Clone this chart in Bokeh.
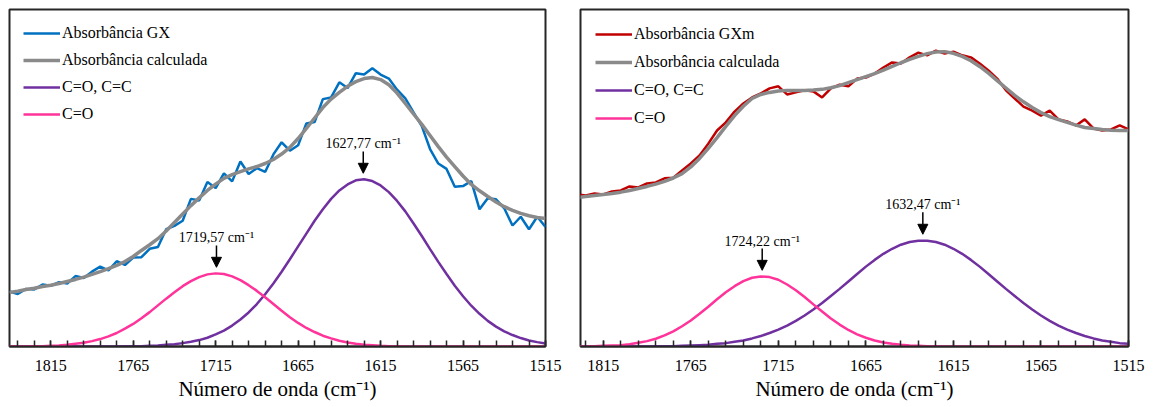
from bokeh.plotting import figure
from bokeh.layouts import row
from bokeh.models import Range1d, FixedTicker, Legend, LegendItem, Label, Arrow, NormalHead
from bokeh.embed import file_html
from bokeh.resources import INLINE

# ---------------- data: sample GX ----------------
wn_gx = list(range(1840, 1514, -5))

abs_gx = [0.163, 0.156, 0.171, 0.169, 0.184, 0.180, 0.191, 0.187, 0.209, 0.203,
          0.222, 0.237, 0.226, 0.253, 0.242, 0.264, 0.265, 0.290, 0.295, 0.348,
          0.358, 0.373, 0.438, 0.433, 0.488, 0.470, 0.514, 0.490, 0.549, 0.512,
          0.529, 0.518, 0.570, 0.606, 0.581, 0.597, 0.662, 0.666, 0.734, 0.739,
          0.784, 0.767, 0.811, 0.807, 0.826, 0.807, 0.795, 0.762, 0.736, 0.695,
          0.654, 0.586, 0.543, 0.527, 0.474, 0.476, 0.491, 0.407, 0.440, 0.437,
          0.410, 0.359, 0.385, 0.348, 0.385, 0.355]
calc_gx = [0.160, 0.164, 0.169, 0.173, 0.178, 0.182, 0.187, 0.193, 0.199, 0.206,
           0.214, 0.222, 0.231, 0.241, 0.252, 0.267, 0.285, 0.302, 0.320, 0.343,
           0.368, 0.393, 0.418, 0.441, 0.463, 0.482, 0.499, 0.510, 0.519, 0.527,
           0.534, 0.543, 0.555, 0.571, 0.591, 0.617, 0.647, 0.678, 0.709, 0.734,
           0.754, 0.772, 0.786, 0.795, 0.798, 0.792, 0.777, 0.752, 0.721, 0.690,
           0.659, 0.626, 0.593, 0.562, 0.534, 0.506, 0.481, 0.462, 0.445, 0.429,
           0.415, 0.404, 0.395, 0.388, 0.383, 0.380]
cc_gx = [0.000, 0.000, 0.000, 0.000, 0.000, 0.000, 0.000, 0.000, 0.000, 0.000,
         0.000, 0.000, 0.000, 0.000, 0.001, 0.001, 0.001, 0.002, 0.003, 0.005,
         0.007, 0.010, 0.014, 0.019, 0.026, 0.036, 0.047, 0.062, 0.080, 0.101,
         0.126, 0.155, 0.187, 0.222, 0.259, 0.297, 0.335, 0.373, 0.407, 0.438,
         0.463, 0.481, 0.493, 0.496, 0.491, 0.478, 0.458, 0.432, 0.401, 0.365,
         0.328, 0.289, 0.251, 0.215, 0.180, 0.149, 0.121, 0.097, 0.076, 0.059,
         0.045, 0.034, 0.025, 0.018, 0.013, 0.009]
co_gx = [0.000, 0.000, 0.000, 0.001, 0.001, 0.002, 0.003, 0.005, 0.008, 0.011,
         0.016, 0.022, 0.030, 0.040, 0.053, 0.067, 0.084, 0.102, 0.122, 0.142,
         0.161, 0.179, 0.194, 0.206, 0.214, 0.217, 0.215, 0.208, 0.197, 0.182,
         0.165, 0.146, 0.126, 0.106, 0.087, 0.070, 0.055, 0.043, 0.032, 0.024,
         0.017, 0.012, 0.008, 0.005, 0.004, 0.002, 0.001, 0.001, 0.000, 0.000,
         0.000, 0.000, 0.000, 0.000, 0.000, 0.000, 0.000, 0.000, 0.000, 0.000,
         0.000, 0.000, 0.000, 0.000, 0.000, 0.000]
peaks_gx = [1714.5, 1625.5]
peak_heights_gx = [0.217, 0.496]
peak_labels_gx = ["1719,57 cm⁻¹", "1627,77 cm⁻¹"]

# ---------------- data: sample GXm ----------------
wn_gxm = list(range(1830, 1514, -5))

abs_gxm = [0.451, 0.448, 0.454, 0.451, 0.460, 0.463, 0.475, 0.472, 0.484, 0.487,
           0.499, 0.501, 0.522, 0.543, 0.567, 0.602, 0.641, 0.665, 0.697, 0.721,
           0.739, 0.751, 0.766, 0.772, 0.748, 0.754, 0.760, 0.757, 0.739, 0.766,
           0.777, 0.772, 0.795, 0.798, 0.810, 0.828, 0.843, 0.840, 0.858, 0.872,
           0.864, 0.878, 0.869, 0.875, 0.864, 0.858, 0.840, 0.819, 0.795, 0.760,
           0.736, 0.712, 0.700, 0.685, 0.700, 0.674, 0.668, 0.656, 0.674, 0.647,
           0.641, 0.644, 0.656, 0.644]
calc_gxm = [0.442, 0.445, 0.448, 0.451, 0.454, 0.458, 0.463, 0.469, 0.475, 0.482,
            0.490, 0.500, 0.513, 0.533, 0.558, 0.588, 0.620, 0.653, 0.685, 0.713,
            0.736, 0.748, 0.754, 0.758, 0.760, 0.760, 0.760, 0.761, 0.763, 0.768,
            0.774, 0.783, 0.792, 0.801, 0.810, 0.820, 0.831, 0.842, 0.852, 0.861,
            0.869, 0.874, 0.875, 0.870, 0.861, 0.848, 0.831, 0.811, 0.789, 0.767,
            0.745, 0.726, 0.709, 0.694, 0.682, 0.673, 0.665, 0.657, 0.650, 0.647,
            0.644, 0.642, 0.641, 0.641]
cc_gxm = [0.000, 0.000, 0.000, 0.000, 0.000, 0.000, 0.000, 0.000, 0.000, 0.001,
          0.001, 0.001, 0.002, 0.003, 0.004, 0.005, 0.008, 0.010, 0.014, 0.018,
          0.024, 0.031, 0.040, 0.050, 0.062, 0.076, 0.092, 0.110, 0.129, 0.150,
          0.171, 0.193, 0.215, 0.237, 0.257, 0.275, 0.290, 0.302, 0.310, 0.314,
          0.314, 0.310, 0.302, 0.290, 0.275, 0.257, 0.237, 0.215, 0.193, 0.171,
          0.150, 0.129, 0.110, 0.092, 0.076, 0.062, 0.050, 0.040, 0.031, 0.024,
          0.018, 0.014, 0.010, 0.008]
co_gxm = [0.000, 0.000, 0.001, 0.002, 0.003, 0.004, 0.007, 0.011, 0.016, 0.023,
          0.033, 0.045, 0.060, 0.077, 0.097, 0.118, 0.140, 0.161, 0.179, 0.194,
          0.204, 0.208, 0.206, 0.198, 0.184, 0.167, 0.147, 0.125, 0.104, 0.083,
          0.065, 0.049, 0.036, 0.026, 0.018, 0.012, 0.008, 0.005, 0.003, 0.002,
          0.001, 0.001, 0.000, 0.000, 0.000, 0.000, 0.000, 0.000, 0.000, 0.000,
          0.000, 0.000, 0.000, 0.000, 0.000, 0.000, 0.000, 0.000, 0.000, 0.000,
          0.000, 0.000, 0.000, 0.000]
peaks_gxm = [1724.22, 1632.47]
peak_heights_gxm = [0.208, 0.315]
peak_labels_gxm = ["1724,22 cm⁻¹", "1632,47 cm⁻¹"]

tick_values = [1815, 1765, 1715, 1665, 1615, 1565, 1515]
minor_tick_values = list(range(1835, 1514, -10))
legend_labels_gx = ["Absorbância GX", "Absorbância calculada", "C=O, C=C", "C=O"]
legend_labels_gxm = ["Absorbância GXm", "Absorbância calculada", "C=O, C=C", "C=O"]
x_title = "Número de onda (cm⁻¹)"

FONT = "Liberation Serif"
GRAY = "#8a8a8a"
PURPLE = "#7030A0"
PINK = "#FF3399"
FRAME = "#262626"


def make_panel(xr, wn, meas, meas_color, calc, cc, co,
               peaks, heights, labels, leg_labels, width, frame_width,
               border_left, border_right, leg_spacing, leg_padding):
    p = figure(width=width, frame_width=frame_width, frame_height=337,
               x_range=Range1d(*xr), y_range=Range1d(0, 1),
               y_axis_location=None, toolbar_location=None,
               output_backend="svg", min_border_left=border_left,
               min_border_right=border_right, min_border_top=9,
               min_border_bottom=0)
    p.xgrid.visible = False
    p.ygrid.visible = False
    p.outline_line_color = FRAME
    p.outline_line_width = 2
    p.background_fill_color = "white"
    p.border_fill_color = "white"

    r1 = p.line(wn, meas, line_color=meas_color, line_width=2.5)
    r2 = p.line(wn, calc, line_color=GRAY, line_width=3.5)
    r3 = p.line(wn, cc, line_color=PURPLE, line_width=2.5)
    r4 = p.line(wn, co, line_color=PINK, line_width=2.5)

    ax = p.xaxis[0]
    ax.ticker = FixedTicker(ticks=tick_values, minor_ticks=minor_tick_values)
    ax.axis_line_color = FRAME
    ax.axis_line_width = 2
    ax.major_tick_in = 6
    ax.major_tick_out = 0
    ax.minor_tick_in = 6
    ax.minor_tick_out = 0
    ax.major_tick_line_color = FRAME
    ax.minor_tick_line_color = FRAME
    ax.major_tick_line_width = 1.5
    ax.minor_tick_line_width = 1.5
    ax.major_label_text_font = FONT
    ax.major_label_text_font_size = "16px"
    ax.major_label_text_color = "black"
    ax.major_label_standoff = 13
    ax.axis_label = x_title
    ax.axis_label_text_font = FONT
    ax.axis_label_text_font_size = "21px"
    ax.axis_label_text_font_style = "normal"
    ax.axis_label_text_color = "black"
    ax.axis_label_standoff = 3

    legend = Legend(items=[LegendItem(label=l, renderers=[r])
                           for l, r in zip(leg_labels, [r1, r2, r3, r4])],
                    location="top_left")
    legend.label_text_font = FONT
    legend.label_text_font_size = "16px"
    legend.label_text_color = "black"
    legend.glyph_width = 37
    legend.glyph_height = 20
    legend.label_height = 20
    legend.label_standoff = 2
    legend.spacing = leg_spacing
    legend.padding = leg_padding
    legend.margin = 0
    legend.background_fill_alpha = 0
    legend.border_line_alpha = 0
    p.add_layout(legend)

    for x, h, t in zip(peaks, heights, labels):
        p.add_layout(Arrow(end=NormalHead(size=10, fill_color="black",
                                          line_color="black"),
                           x_start=x, y_start=h + 0.083, x_end=x, y_end=h + 0.018,
                           line_color="black", line_width=1.5))
        p.add_layout(Label(x=x, y=h + 0.105, text=t, text_align="center",
                           text_baseline="middle", text_font=FONT,
                           text_font_size="14px", text_color="black"))
    return p


p1 = make_panel((1840, 1515), wn_gx, abs_gx, "#0070C0",
                calc_gx, cc_gx, co_gx, peaks_gx, peak_heights_gx, peak_labels_gx,
                legend_labels_gx, 562, 536, 9, 17, 7, 14)
p2 = make_panel((1828, 1515), wn_gxm, abs_gxm, "#C00000",
                calc_gxm, cc_gxm, co_gxm, peaks_gxm, peak_heights_gxm,
                peak_labels_gxm, legend_labels_gxm, 592, 548, 18, 26, 8, 15)

layout = row(p1, p2)
open("out.html", "w").write(file_html(layout, INLINE))
